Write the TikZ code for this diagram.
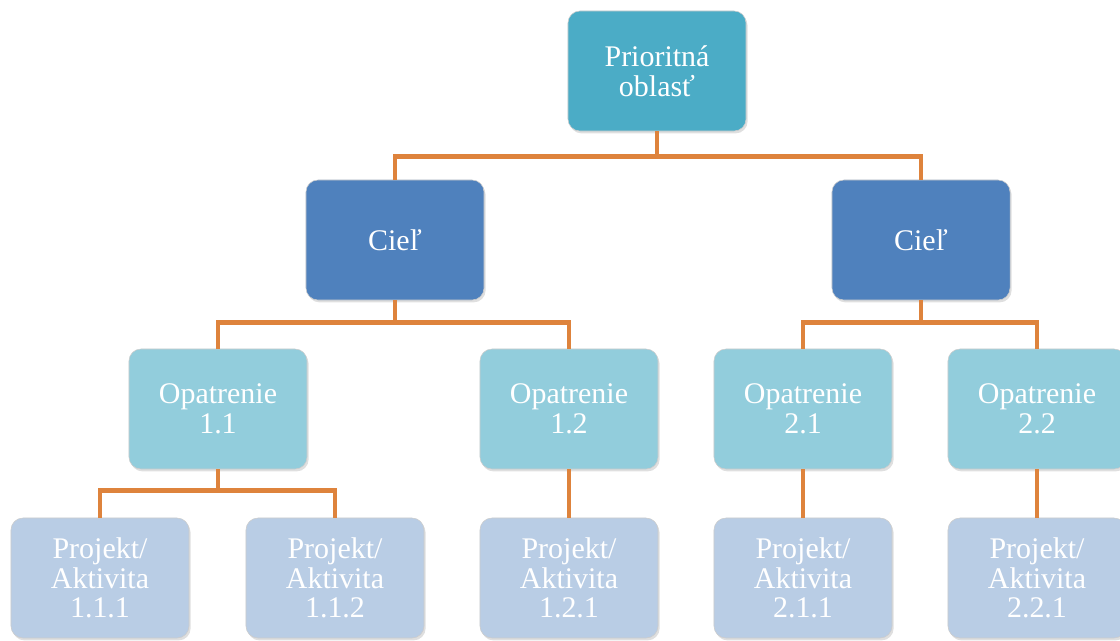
\documentclass[tikz,border=0pt]{standalone}
\usepackage{fontspec}
\setmainfont{Liberation Serif}
\usetikzlibrary{shadows}

\definecolor{topblue}{RGB}{75,172,198}
\definecolor{goalblue}{RGB}{79,129,189}
\definecolor{measblue}{RGB}{146,205,220}
\definecolor{projblue}{RGB}{185,205,229}
\definecolor{linkorange}{RGB}{222,131,60}

\begin{document}
\begin{tikzpicture}[x=0.025cm, y=-0.025cm,
    every node/.style={rectangle, rounded corners=0.3cm, minimum width=4.45cm,
        minimum height=3cm, align=center, text=white, font=\fontsize{21.3}{21}\selectfont,
        draw=white!60!gray, line width=0.4pt, drop shadow={opacity=0.25, shadow xshift=0.04cm, shadow yshift=-0.06cm}},
    link/.style={draw=linkorange, line width=3.5pt}]
    \useasboundingbox (0,0) rectangle (1120,640);

    \node[fill=topblue] (po) at (657, 71) {Prioritná\\oblasť};

    \node[fill=goalblue] (c1) at (395, 240) {Cieľ};
    \node[fill=goalblue] (c2) at (921, 240) {Cieľ};

    \node[fill=measblue] (o11) at (218, 409) {Opatrenie\\1.1};
    \node[fill=measblue] (o12) at (569, 409) {Opatrenie\\1.2};
    \node[fill=measblue] (o21) at (803, 409) {Opatrenie\\2.1};
    \node[fill=measblue] (o22) at (1037, 409) {Opatrenie\\2.2};

    \node[fill=projblue] (p111) at (100, 578) {Projekt/\\Aktivita\\1.1.1};
    \node[fill=projblue] (p112) at (335, 578) {Projekt/\\Aktivita\\1.1.2};
    \node[fill=projblue] (p121) at (569, 578) {Projekt/\\Aktivita\\1.2.1};
    \node[fill=projblue] (p211) at (803, 578) {Projekt/\\Aktivita\\2.1.1};
    \node[fill=projblue] (p221) at (1037, 578) {Projekt/\\Aktivita\\2.2.1};

    \draw[link] (po.south) -- ++(0, 25) -| (c1.north);
    \draw[link] (po.south) -- ++(0, 25) -| (c2.north);
    \draw[link] (c1.south) -- ++(0, 22) -| (o11.north);
    \draw[link] (c1.south) -- ++(0, 22) -| (o12.north);
    \draw[link] (c2.south) -- ++(0, 22) -| (o21.north);
    \draw[link] (c2.south) -- ++(0, 22) -| (o22.north);
    \draw[link] (o11.south) -- ++(0, 21) -| (p111.north);
    \draw[link] (o11.south) -- ++(0, 21) -| (p112.north);
    \draw[link] (o12.south) -- (p121.north);
    \draw[link] (o21.south) -- (p211.north);
    \draw[link] (o22.south) -- (p221.north);
\end{tikzpicture}
\end{document}
